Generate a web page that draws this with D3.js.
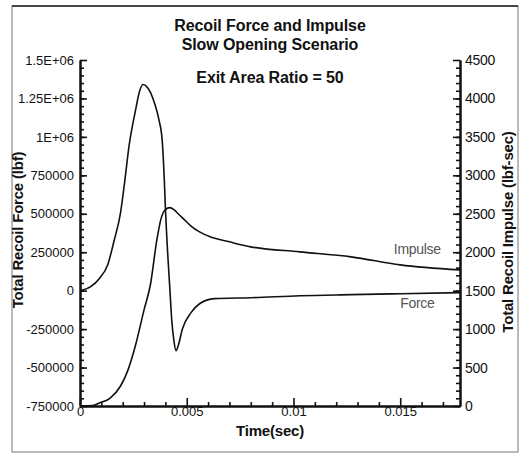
<!DOCTYPE html>
<html>
<head>
<meta charset="utf-8">
<script src="https://cdn.jsdelivr.net/npm/d3@7"></script>
<style>
  body { margin: 0; background: #fff; }
  svg text { font-family: "Liberation Sans", Arial, sans-serif; fill: #111; }
  .axis path, .axis line { stroke: #111; }
  .axis path { stroke-width: 2; }
  .axis line { stroke-width: 1.6; }
  .axis text { font-size: 13px; }
  .right-axis text { font-size: 14px; letter-spacing: -0.3px; }
</style>
</head>
<body>
<div id="chart"></div>
<script>
// time ticks (s)
const timeTicks = [0, 0.005, 0.01, 0.015]
const timeMinor = [0.001, 0.002, 0.003, 0.004, 0.006, 0.007, 0.008, 0.009, 0.011, 0.012, 0.013, 0.014, 0.016, 0.017]
const forceTicks = [-750000, -500000, -250000, 0, 250000, 500000, 750000, 1000000, 1250000, 1500000]
const forceTickLabels = ["-750000", "-500000", "-250000", "0", "250000", "500000", "750000", "1E+06", "1.25E+06", "1.5E+06"]
const impulseTicks = [0, 500, 1000, 1500, 2000, 2500, 3000, 3500, 4000, 4500]

// Force curve (lbf)
const forceTime = [0, 0.0005, 0.0009, 0.0013, 0.0016, 0.0019, 0.0021, 0.0023, 0.0026, 0.0028, 0.00295,
                   0.0031, 0.0033, 0.0035, 0.0037, 0.00385, 0.0039, 0.00395, 0.004, 0.00405, 0.0041,
                   0.0042, 0.0043, 0.0044, 0.0045, 0.0046, 0.0048, 0.0052, 0.0056, 0.0063, 0.008,
                   0.0103, 0.0127, 0.015, 0.0178]
const forceValues = [0, 26000, 78000, 169000, 326000, 508000, 716000, 944000, 1172000, 1302000, 1341000,
                     1330000, 1290000, 1215000, 1110000, 977000, 866000, 716000, 540000, 391000, 260000,
                     33000, -195000, -326000, -391000, -358000, -247000, -143000, -85000, -52000, -46000,
                     -33000, -26000, -20000, -13000]

// Impulse curve (lbf-sec)
const impulseTime = [0, 0.0006, 0.0009, 0.0014, 0.0019, 0.00225, 0.0026, 0.003, 0.0033, 0.0036, 0.0038,
                     0.004, 0.0042, 0.0044, 0.0046, 0.0049, 0.0052, 0.0056, 0.0061, 0.007, 0.008,
                     0.0103, 0.0127, 0.015, 0.0178]
const impulseValues = [0, 5, 40, 100, 260, 470, 790, 1250, 1580, 2160, 2440,
                       2555, 2580, 2555, 2500, 2420, 2340, 2265, 2200, 2135, 2070,
                       2005, 1940, 1835, 1770]

const W = 520, H = 454
const plot = { left: 80, right: 460, top: 60, bottom: 406 }

const svg = d3.select("#chart").append("svg")
              .attr("width", W)
              .attr("height", H)

// page frame from the scan
svg.append("rect")
   .attr("x", 12).attr("y", 6)
   .attr("width", 506).attr("height", 446)
   .attr("fill", "none")
   .attr("stroke", "#777")
   .attr("stroke-width", 1)
svg.append("line")
   .attr("x1", 12).attr("x2", 518).attr("y1", 6).attr("y2", 6)
   .attr("stroke", "#222").attr("stroke-width", 1.5)

const xScale = d3.scaleLinear()
                 .domain([0, 0.0178])
                 .range([plot.left, plot.right])

const yForce = d3.scaleLinear()
                 .domain([-750000, 1500000])
                 .range([plot.bottom, plot.top])

const yImpulse = d3.scaleLinear()
                   .domain([0, 4500])
                   .range([plot.bottom, plot.top])

// minor ticks first
svg.append("g")
   .attr("class", "axis")
   .attr("transform", `translate(0, ${plot.bottom})`)
   .call(d3.axisBottom(xScale).tickValues(timeMinor).tickSize(-4).tickSizeOuter(0).tickFormat(""))

svg.append("g")
   .attr("class", "axis")
   .attr("transform", `translate(${plot.left}, 0)`)
   .call(d3.axisLeft(yForce).tickValues(d3.range(-700000, 1500000, 50000)).tickSize(-4).tickSizeOuter(0).tickFormat(""))

svg.append("g")
   .attr("class", "axis")
   .attr("transform", `translate(${plot.right}, 0)`)
   .call(d3.axisRight(yImpulse).tickValues(d3.range(100, 4500, 100)).tickSize(-4).tickSizeOuter(0).tickFormat(""))

// major axes
svg.append("g")
   .attr("class", "axis")
   .attr("transform", `translate(0, ${plot.bottom})`)
   .call(d3.axisBottom(xScale).tickValues(timeTicks).tickSize(-8).tickSizeOuter(0).tickPadding(1)
           .tickFormat(d => d === 0 ? "0" : String(d)))

svg.append("g")
   .attr("class", "axis")
   .attr("transform", `translate(${plot.left}, 0)`)
   .call(d3.axisLeft(yForce).tickValues(forceTicks).tickSize(-7).tickSizeOuter(0).tickPadding(6)
           .tickFormat((d, i) => forceTickLabels[i]))

svg.append("g")
   .attr("class", "axis right-axis")
   .attr("transform", `translate(${plot.right}, 0)`)
   .call(d3.axisRight(yImpulse).tickValues(impulseTicks).tickSize(-7).tickSizeOuter(0).tickPadding(5)
           .tickFormat(d3.format("d")))

// curves
const forceLine = d3.line()
                    .x((d, i) => xScale(forceTime[i]))
                    .y(d => yForce(d))
                    .curve(d3.curveMonotoneX)

const impulseLine = d3.line()
                      .x((d, i) => xScale(impulseTime[i]))
                      .y(d => yImpulse(d))
                      .curve(d3.curveMonotoneX)

svg.append("path")
   .datum(forceValues)
   .attr("d", forceLine)
   .attr("fill", "none")
   .attr("stroke", "#111")
   .attr("stroke-width", 1.6)

svg.append("path")
   .datum(impulseValues)
   .attr("d", impulseLine)
   .attr("fill", "none")
   .attr("stroke", "#111")
   .attr("stroke-width", 1.6)

// curve labels
svg.append("text")
   .attr("x", xScale(0.0158)).attr("y", yImpulse(2040))
   .attr("text-anchor", "middle").attr("dy", "0.35em")
   .style("font-size", "14px").style("fill", "#555").style("letter-spacing", "-0.3px")
   .text("Impulse")

svg.append("text")
   .attr("x", xScale(0.0158)).attr("y", yForce(-78000))
   .attr("text-anchor", "middle").attr("dy", "0.35em")
   .style("font-size", "14px").style("fill", "#555").style("letter-spacing", "-0.3px")
   .text("Force")

// titles
const cx = (plot.left + plot.right) / 2
svg.append("text")
   .attr("x", cx).attr("y", 31)
   .attr("text-anchor", "middle")
   .style("font-size", "16px").style("font-weight", "bold").style("letter-spacing", "-0.1px")
   .text("Recoil Force and Impulse")

svg.append("text")
   .attr("x", cx).attr("y", 50)
   .attr("text-anchor", "middle")
   .style("font-size", "16px").style("font-weight", "bold").style("letter-spacing", "-0.1px")
   .text("Slow Opening Scenario")

svg.append("text")
   .attr("x", cx).attr("y", 83)
   .attr("text-anchor", "middle")
   .style("font-size", "16px").style("font-weight", "bold").style("letter-spacing", "-0.1px")
   .text("Exit Area Ratio = 50")

svg.append("text")
   .attr("x", cx).attr("y", 436)
   .attr("text-anchor", "middle")
   .style("font-size", "15px").style("font-weight", "bold").style("letter-spacing", "-0.2px")
   .text("Time(sec)")

svg.append("text")
   .attr("transform", `translate(23, 230) rotate(-90)`)
   .attr("text-anchor", "middle")
   .style("font-size", "15px").style("font-weight", "bold").style("letter-spacing", "-0.2px")
   .text("Total Recoil Force (lbf)")

svg.append("text")
   .attr("transform", `translate(513, 232) rotate(-90)`)
   .attr("text-anchor", "middle")
   .style("font-size", "15px").style("font-weight", "bold").style("letter-spacing", "-0.2px")
   .text("Total Recoil Impulse (lbf-sec)")
</script>
</body>
</html>
